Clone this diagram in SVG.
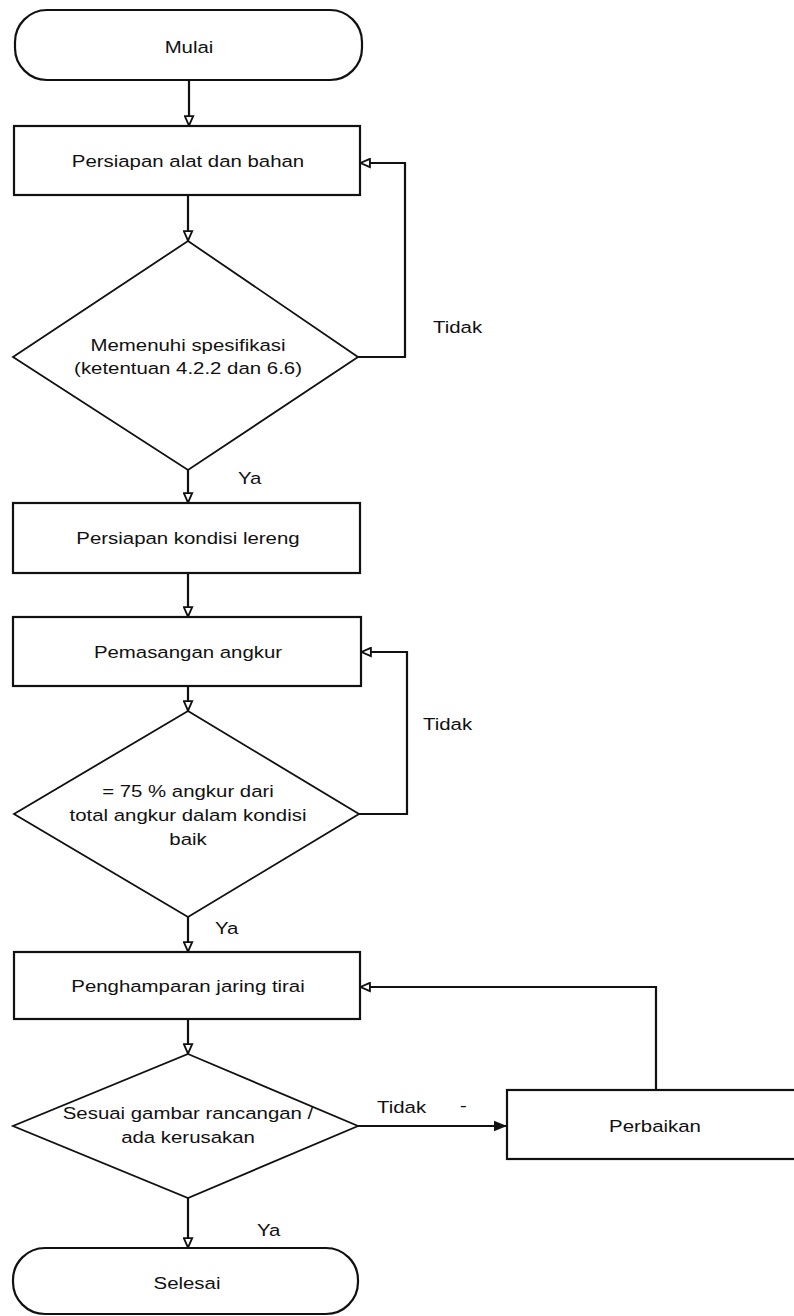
<svg xmlns="http://www.w3.org/2000/svg" width="794" height="1316" viewBox="0 0 794 1316">
<style>
.shape{fill:#fff;stroke:#111;stroke-width:2.2}
.dia{fill:#fff;stroke:#111;stroke-width:1.8}
.t{font-family:"Liberation Sans",Arial,sans-serif;font-size:17px;fill:#111;text-anchor:middle}
.lbl{font-family:"Liberation Sans",Arial,sans-serif;font-size:17px;fill:#111}
.c{fill:none;stroke:#111;stroke-width:2.2}
</style>
<defs>
<marker id="ah" viewBox="0 0 10 10" refX="10" refY="5" markerWidth="11" markerHeight="11" markerUnits="userSpaceOnUse" orient="auto">
<path d="M1,1.2 L9.6,5 L1,8.8 Z" fill="#fff" stroke="#111" stroke-width="1.7"/>
</marker>
<marker id="ahf" viewBox="0 0 10 10" refX="10" refY="5" markerWidth="13" markerHeight="13" markerUnits="userSpaceOnUse" orient="auto">
<path d="M0,1 L10,5 L0,9 Z" fill="#111"/>
</marker>
</defs>
<rect width="794" height="1316" fill="#fff"/>
<g id="connectors">
<line class="c" x1="189" y1="80" x2="189" y2="126" marker-end="url(#ah)"/>
<line class="c" x1="188" y1="195" x2="188" y2="241" marker-end="url(#ah)"/>
<polyline class="c" points="358,357 405,357 405,163 360,163" marker-end="url(#ah)"/>
<line class="c" x1="188" y1="470" x2="188" y2="503" marker-end="url(#ah)"/>
<line class="c" x1="188" y1="573" x2="188" y2="617" marker-end="url(#ah)"/>
<line class="c" x1="188" y1="686" x2="188" y2="711" marker-end="url(#ah)"/>
<polyline class="c" points="359,814 407,814 407,652 361,652" marker-end="url(#ah)"/>
<line class="c" x1="188" y1="917" x2="188" y2="952" marker-end="url(#ah)"/>
<line class="c" x1="188" y1="1019" x2="188" y2="1054" marker-end="url(#ah)"/>
<line class="c" x1="358" y1="1126" x2="507" y2="1126" marker-end="url(#ahf)"/>
<polyline class="c" points="656,1090 656,987 360,987" marker-end="url(#ah)"/>
<line class="c" x1="188" y1="1198" x2="188" y2="1248" marker-end="url(#ah)"/>
<text class="lbl" transform="translate(433 333) scale(1.2 1)">Tidak</text>
<text class="lbl" transform="translate(238 484) scale(1.2 1)">Ya</text>
<text class="lbl" transform="translate(423 730) scale(1.2 1)">Tidak</text>
<text class="lbl" transform="translate(215 934) scale(1.2 1)">Ya</text>
<text class="lbl" transform="translate(377 1113) scale(1.2 1)">Tidak</text>
<text class="lbl" transform="translate(460 1111) scale(1.2 1)">-</text>
<text class="lbl" transform="translate(257 1236) scale(1.2 1)">Ya</text>
</g>
<g id="mulai">
<rect class="shape" x="15" y="10" width="347" height="70" rx="32" ry="32"/>
<text class="t" transform="translate(189 53) scale(1.2 1)">Mulai</text>
</g>
<g id="persiapan-alat">
<rect class="shape" x="14" y="126" width="346" height="69"/>
<text class="t" transform="translate(188 167) scale(1.2 1)">Persiapan alat dan bahan</text>
</g>
<g id="memenuhi-spesifikasi">
<polygon class="dia" points="188,241 358,357 188,470 13,357"/>
<text class="t" transform="translate(188 351) scale(1.2 1)">Memenuhi spesifikasi</text>
<text class="t" transform="translate(188 374) scale(1.2 1)">(ketentuan 4.2.2 dan 6.6)</text>
</g>
<g id="persiapan-lereng">
<rect class="shape" x="13" y="503" width="347" height="70"/>
<text class="t" transform="translate(188 544) scale(1.2 1)">Persiapan kondisi lereng</text>
</g>
<g id="pemasangan-angkur">
<rect class="shape" x="13" y="617" width="348" height="69"/>
<text class="t" transform="translate(188 658) scale(1.2 1)">Pemasangan angkur</text>
</g>
<g id="angkur-baik">
<polygon class="dia" points="188,711 359,814 188,917 14,814"/>
<text class="t" transform="translate(188 797) scale(1.2 1)">= 75 % angkur dari</text>
<text class="t" transform="translate(188 821) scale(1.2 1)">total angkur dalam kondisi</text>
<text class="t" transform="translate(188 845) scale(1.2 1)">baik</text>
</g>
<g id="penghamparan">
<rect class="shape" x="14" y="952" width="346" height="67"/>
<text class="t" transform="translate(188 992) scale(1.2 1)">Penghamparan jaring tirai</text>
</g>
<g id="sesuai-gambar">
<polygon class="dia" points="188,1054 358,1126 188,1198 13,1126"/>
<text class="t" transform="translate(188 1119) scale(1.2 1)">Sesuai gambar rancangan /</text>
<text class="t" transform="translate(188 1143) scale(1.2 1)">ada kerusakan</text>
</g>
<g id="perbaikan">
<rect class="shape" x="507" y="1090" width="300" height="69"/>
<text class="t" transform="translate(655 1132) scale(1.2 1)">Perbaikan</text>
</g>
<g id="selesai">
<rect class="shape" x="13" y="1248" width="345" height="66" rx="32" ry="32"/>
<text class="t" transform="translate(187 1289) scale(1.2 1)">Selesai</text>
</g>
</svg>
